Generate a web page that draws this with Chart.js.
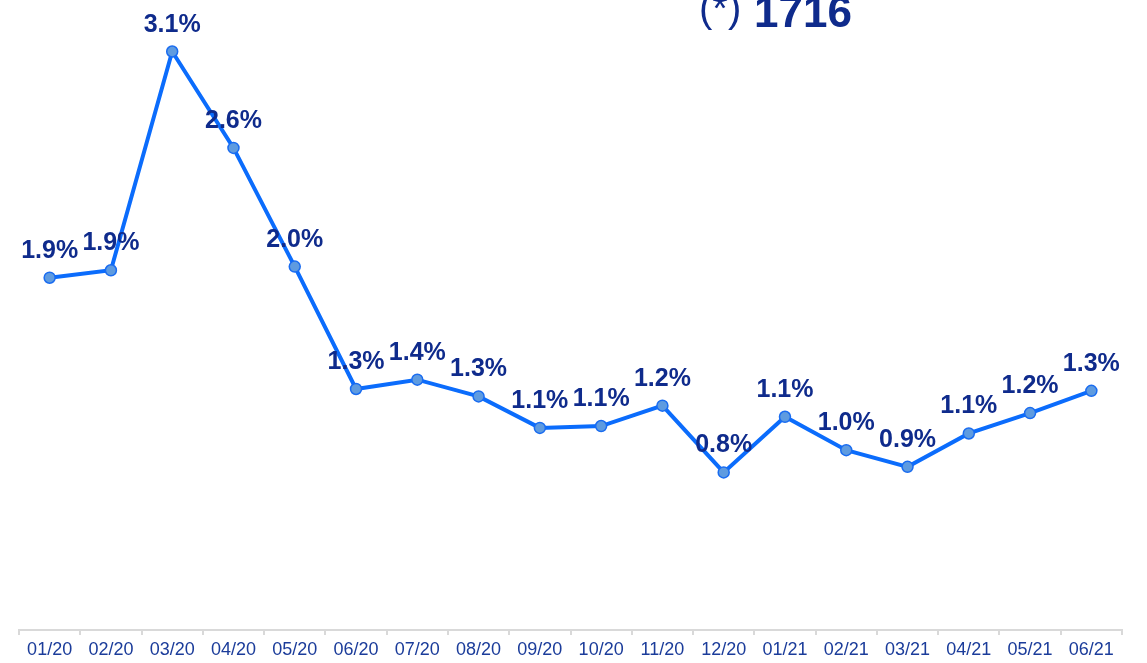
<!DOCTYPE html>
<html>
<head>
<meta charset="utf-8">
<script src="https://cdn.jsdelivr.net/npm/chart.js@4/dist/chart.umd.min.js"></script>
<style>
  html, body { margin: 0; padding: 0; background: #fff; }
  #wrap { width: 1147px; height: 663px; position: relative; }
</style>
</head>
<body>
<div id="wrap"><canvas id="rateChart"></canvas></div>
<script>
const months = ['01/20','02/20','03/20','04/20','05/20','06/20','07/20','08/20','09/20',
                '10/20','11/20','12/20','01/21','02/21','03/21','04/21','05/21','06/21'];
const rates = [1.90, 1.94, 3.12, 2.60, 1.96, 1.30, 1.35, 1.26, 1.09,
               1.10, 1.21, 0.85, 1.15, 0.97, 0.88, 1.06, 1.17, 1.29];
const rateLabels = ['1.9%','1.9%','3.1%','2.6%','2.0%','1.3%','1.4%','1.3%','1.1%',
                    '1.1%','1.2%','0.8%','1.1%','1.0%','0.9%','1.1%','1.2%','1.3%'];

// value labels over the points + header text
const labelPlugin = {
  id: 'rateLabels',
  afterDatasetsDraw(chart) {
    const ctx = chart.ctx;
    const meta = chart.getDatasetMeta(0);
    ctx.save();
    ctx.fillStyle = '#0f2b8c';
    ctx.font = 'bold 25px "Liberation Sans", Arial, sans-serif';
    ctx.textAlign = 'center';
    ctx.textBaseline = 'alphabetic';
    meta.data.forEach((pt, i) => {
      ctx.fillText(rateLabels[i], pt.x, pt.y - 20);
    });
    // header, cut off at the top edge
    ctx.textAlign = 'left';
    ctx.font = '40px "Liberation Sans", Arial, sans-serif';
    ctx.fillText('(*)', 699, 22);
    ctx.font = 'bold 44px "Liberation Sans", Arial, sans-serif';
    ctx.fillText('1716', 754, 27);
    ctx.restore();
  }
};

const ctx = document.getElementById('rateChart').getContext('2d');
new Chart(ctx, {
  type: 'line',
  data: {
    labels: months,
    datasets: [{
      data: rates,
      borderColor: '#0b6cfc',
      borderWidth: 4,
      backgroundColor: '#5e9be0',
      pointBackgroundColor: '#5e9be0',
      pointBorderColor: '#1a6cf0',
      pointBorderWidth: 1.5,
      pointRadius: 5.5,
      fill: false,
      tension: 0
    }]
  },
  options: {
    responsive: true,
    maintainAspectRatio: false,
    animation: false,
    layout: { padding: { left: 19, right: 25, top: 1, bottom: -2 } },
    plugins: {
      legend: { display: false },
      title: { display: false },
      tooltip: { enabled: false }
    },
    scales: {
      x: {
        offset: true,
        grid: { offset: true, drawOnChartArea: false, tickLength: 5, color: '#d9d9d9', lineWidth: 2 },
        border: { color: '#d9d9d9', width: 2 },
        ticks: {
          color: '#1b3c9a',
          padding: 6,
          maxRotation: 0,
          font: { size: 18, lineHeight: 1, family: '"Liberation Sans", Arial, sans-serif' }
        }
      },
      y: {
        display: false,
        min: 0,
        max: 3.36
      }
    }
  },
  plugins: [labelPlugin]
});
</script>
</body>
</html>
